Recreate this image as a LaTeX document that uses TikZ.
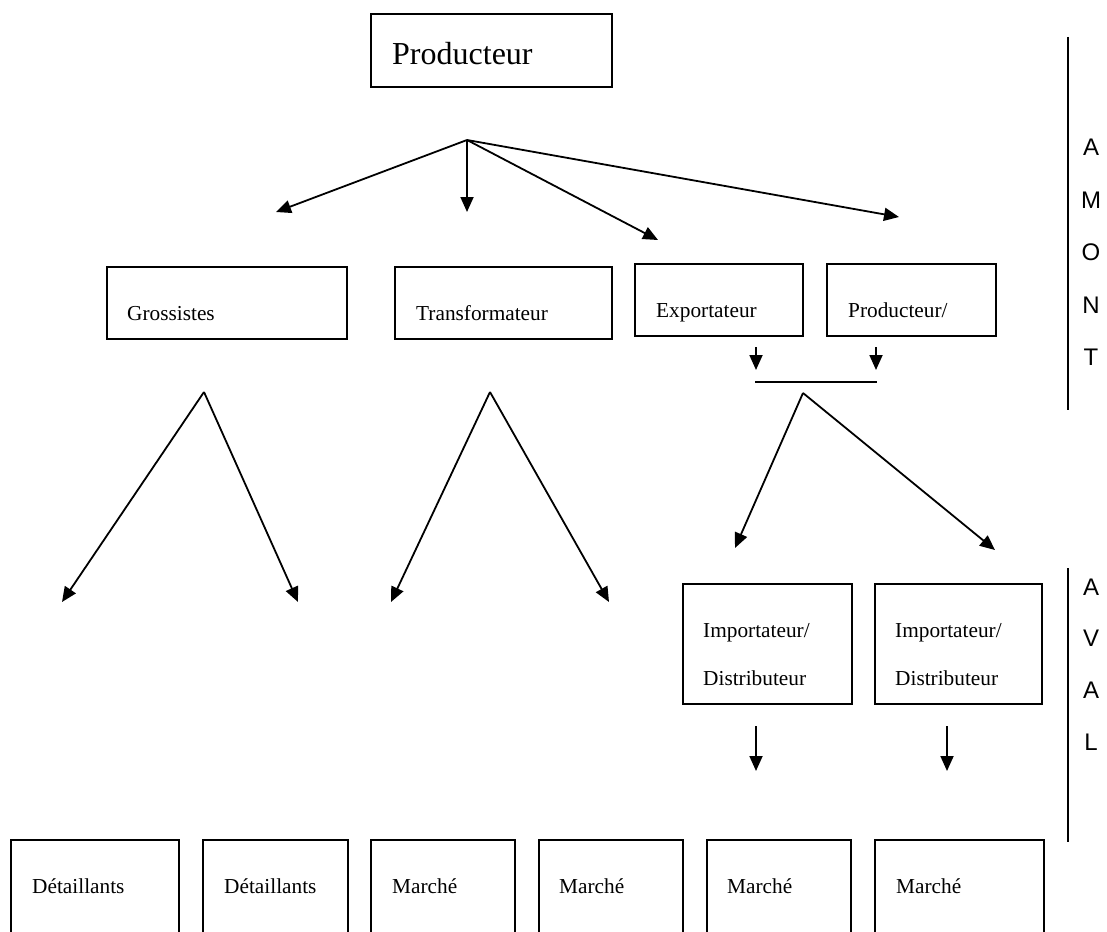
\documentclass[tikz,border=0pt]{standalone}
\usepackage{fontspec}
\setmainfont{Liberation Serif}
\newfontfamily\sidefont{Liberation Sans}
\usetikzlibrary{arrows.meta}

\begin{document}
\begin{tikzpicture}[x=1pt,y=-1pt,
  box/.style={draw,line width=2pt,inner sep=0pt},
  lab/.style={anchor=base west,inner sep=0pt,font=\fontsize{21.3}{24}\selectfont},
  side/.style={inner sep=0pt,font=\sidefont\fontsize{24}{28}\selectfont},
  flow/.style={draw,line width=1.8pt,-{Triangle[length=15pt,width=13pt]}}]
\useasboundingbox (0,0) rectangle (1107,931);
\clip (0,0) rectangle (1107,931);

\node[box,minimum width=241pt,minimum height=73pt] (prod) at (491.5,50.5) {};
\node[lab,font=\fontsize{32}{36}\selectfont] (prod-t) at (392,65) {Producteur};

\node[box,minimum width=240pt,minimum height=72pt] (gros) at (227,303) {};
\node[lab] (gros-t) at (127,320) {Grossistes};
\node[box,minimum width=217pt,minimum height=72pt] (transf) at (503.5,303) {};
\node[lab] (transf-t) at (416,320) {Transformateur};
\node[box,minimum width=168pt,minimum height=72pt] (export) at (719,300) {};
\node[lab] (export-t) at (656,317) {Exportateur};
\node[box,minimum width=169pt,minimum height=72pt] (prod2) at (911.5,300) {};
\node[lab] (prod2-t) at (848,317) {Producteur/};

\node[box,minimum width=169pt,minimum height=120pt] (imp1) at (767.5,644) {};
\node[lab] (imp1-t) at (703,637) {Importateur/};
\node[lab] (imp1-b) at (703,685) {Distributeur};
\node[box,minimum width=167pt,minimum height=120pt] (imp2) at (958.5,644) {};
\node[lab] (imp2-t) at (895,637) {Importateur/};
\node[lab] (imp2-b) at (895,685) {Distributeur};

\node[box,minimum width=168pt,minimum height=120pt] (det1) at (95,900) {};
\node[lab] (det1-t) at (32,893) {Détaillants};
\node[box,minimum width=145pt,minimum height=120pt] (det2) at (275.5,900) {};
\node[lab] (det2-t) at (224,893) {Détaillants};
\node[box,minimum width=144pt,minimum height=120pt] (mar1) at (443,900) {};
\node[lab] (mar1-t) at (392,893) {Marché};
\node[box,minimum width=144pt,minimum height=120pt] (mar2) at (611,900) {};
\node[lab] (mar2-t) at (559,893) {Marché};
\node[box,minimum width=144pt,minimum height=120pt] (mar3) at (779,900) {};
\node[lab] (mar3-t) at (727,893) {Marché};
\node[box,minimum width=169pt,minimum height=120pt] (mar4) at (959.5,900) {};
\node[lab] (mar4-t) at (896,893) {Marché};

% connector ends
\coordinate (top) at (467,140);
\coordinate (to-gros) at (276,212);
\coordinate (to-transf) at (467,212);
\coordinate (to-export) at (658,240);
\coordinate (to-prod2) at (899,217);
\coordinate (ex-a) at (756,347);
\coordinate (ex-b) at (756,370);
\coordinate (pr-a) at (876,347);
\coordinate (pr-b) at (876,370);
\coordinate (bar-l) at (755,382);
\coordinate (bar-r) at (877,382);
\coordinate (fork) at (803,393);
\coordinate (to-imp1) at (735,548);
\coordinate (to-imp2) at (995,550);
\coordinate (gros-fork) at (204,392);
\coordinate (to-det1) at (62,602);
\coordinate (to-det2) at (298,602);
\coordinate (transf-fork) at (490,392);
\coordinate (to-mar1) at (391,602);
\coordinate (to-mar2) at (609,602);
\coordinate (imp1-a) at (756,726);
\coordinate (imp1-b) at (756,771);
\coordinate (imp2-a) at (947,726);
\coordinate (imp2-b) at (947,771);

\path[flow] (top) -- (to-gros);
\path[flow] (top) -- (to-transf);
\path[flow] (top) -- (to-export);
\path[flow] (top) -- (to-prod2);
\path[flow] (ex-a) -- (ex-b);
\path[flow] (pr-a) -- (pr-b);
\path[draw,line width=1.8pt] (bar-l) -- (bar-r);
\path[flow] (fork) -- (to-imp1);
\path[flow] (fork) -- (to-imp2);
\path[flow] (gros-fork) -- (to-det1);
\path[flow] (gros-fork) -- (to-det2);
\path[flow] (transf-fork) -- (to-mar1);
\path[flow] (transf-fork) -- (to-mar2);
\path[flow] (imp1-a) -- (imp1-b);
\path[flow] (imp2-a) -- (imp2-b);

% amont / aval
\coordinate (amont-a) at (1068,37);
\coordinate (amont-b) at (1068,410);
\coordinate (aval-a) at (1068,568);
\coordinate (aval-b) at (1068,842);
\path[draw,line width=1.8pt] (amont-a) -- (amont-b);
\path[draw,line width=1.8pt] (aval-a) -- (aval-b);
\node[side] (am1) at (1091,147) {A};
\node[side] (am2) at (1091,200) {M};
\node[side] (am3) at (1091,252) {O};
\node[side] (am4) at (1091,305) {N};
\node[side] (am5) at (1091,357) {T};
\node[side] (av1) at (1091,587) {A};
\node[side] (av2) at (1091,638) {V};
\node[side] (av3) at (1091,690) {A};
\node[side] (av4) at (1091,742) {L};
\end{tikzpicture}
\end{document}
